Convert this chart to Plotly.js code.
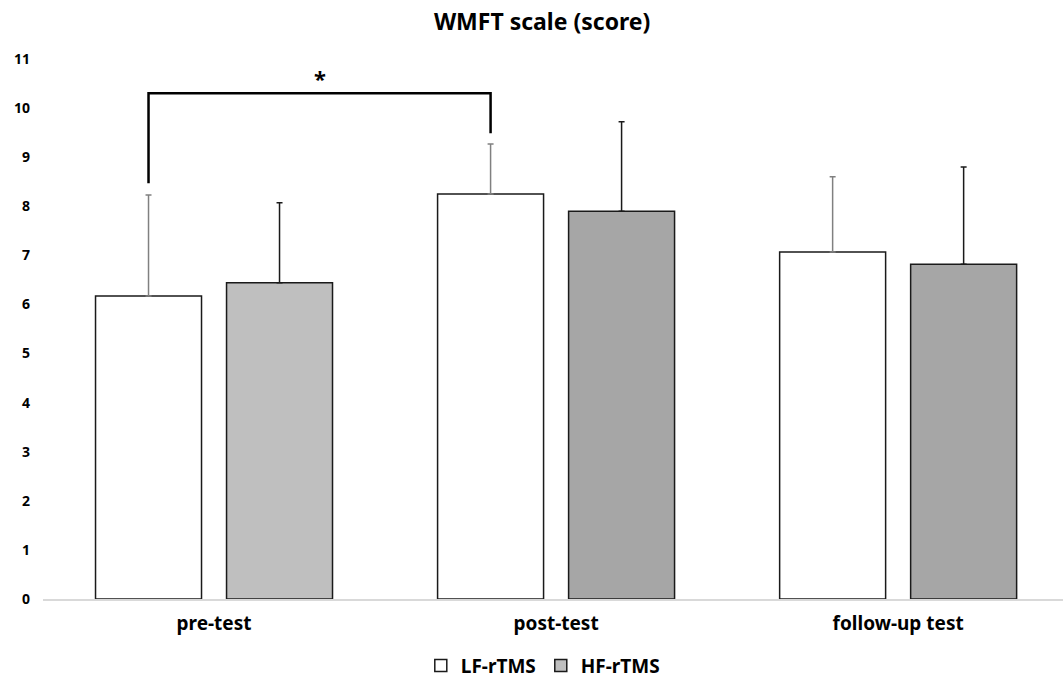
<!DOCTYPE html>
<html>
<head>
<meta charset="utf-8">
<script src="https://cdn.plot.ly/plotly-3.0.1.min.js"></script>
<style>html,body{margin:0;padding:0;background:#fff;}#chart{width:1063px;height:682px;}</style>
</head>
<body>
<div id="chart"></div>
<script>
const categories = ["pre-test", "post-test", "follow-up test"];
const lfMeans = [6.17, 8.25, 7.07];
const lfSD = [2.06, 1.02, 1.53];
const hfMeans = [6.44, 7.90, 6.82];
const hfSD = [1.63, 1.82, 1.98];
const seriesNames = ["LF-rTMS", "HF-rTMS"];
const yTicks = [0,1,2,3,4,5,6,7,8,9,10,11];
// significance bracket: between LF pre-test and LF post-test
const sigFrom = 0, sigTo = 1;
const sigTop = 10.3;
const sigLegEnds = [8.47, 9.49];
const sigLabel = "*";

const FONT = '"Noto Sans", "Noto Sans CJK KR", sans-serif';
const bargap = 0.234, bargroupgap = 0.191;
const slot = (1 - bargap) / 2;
const lfOffset = -slot / 2;

const traces = [
  {
    type: 'bar', name: '<b>' + seriesNames[0] + '</b>', x: categories, y: lfMeans,
    marker: {color: '#ffffff', line: {color: '#1a1a1a', width: 1.5}},
    error_y: {type: 'data', symmetric: false, array: lfSD, arrayminus: lfSD.map(() => 0),
              color: '#808080', thickness: 1.5, width: 3}
  },
  {
    type: 'bar', name: '<b>' + seriesNames[1] + '</b>', x: categories, y: hfMeans,
    marker: {color: ['#a6a6a6', '#a6a6a6', '#a6a6a6'], line: {color: '#1a1a1a', width: 1.5}},
    error_y: {type: 'data', symmetric: false, array: hfSD, arrayminus: hfSD.map(() => 0),
              color: '#1a1a1a', thickness: 1.5, width: 3}
  }
];

const xa = sigFrom + lfOffset, xb = sigTo + lfOffset;
const layout = {
  width: 1063, height: 682,
  margin: {l: 43, r: 0, t: 59, b: 83, autoexpand: false},
  paper_bgcolor: '#ffffff', plot_bgcolor: '#ffffff',
  font: {family: FONT, color: '#000000'},
  title: {text: '<b>WMFT scale (score)</b>', font: {family: FONT, size: 23, color: '#000'},
          x: 0.51, xanchor: 'center', y: 0.968, yanchor: 'middle', xref: 'container'},
  barmode: 'group', bargap: bargap, bargroupgap: bargroupgap,
  showlegend: true,
  legend: {orientation: 'h', x: 0.49, xanchor: 'center', y: 0.024, yanchor: 'middle', yref: 'container',
           font: {family: FONT, size: 19, color: '#000'}, itemwidth: 30,
           traceorder: 'normal'},
  xaxis: {
    type: 'category', range: [-0.5, 2.482], automargin: false,
    showgrid: false, zeroline: false, showline: true, linecolor: '#d9d9d9', linewidth: 1.5,
    ticks: '', tickfont: {family: FONT, size: 19, color: '#000', weight: 'bold'},
    ticklabelstandoff: 7
  },
  yaxis: {
    range: [0, 11], tickvals: yTicks, ticktext: yTicks.map(String), automargin: false,
    showgrid: false, zeroline: false, showline: false, ticks: '',
    tickfont: {family: FONT, size: 14, color: '#000', weight: 'bold'},
    ticklabelstandoff: 12
  },
  shapes: [{
    type: 'path', xref: 'x', yref: 'y',
    path: `M ${xa} ${sigLegEnds[0]} L ${xa} ${sigTop} L ${xb} ${sigTop} L ${xb} ${sigLegEnds[1]}`,
    line: {color: '#000', width: 2.5}
  }],
  annotations: [{
    xref: 'x', yref: 'y', x: (xa + xb) / 2, y: sigTop, yanchor: 'bottom', yshift: -2,
    text: '<b>' + sigLabel + '</b>', showarrow: false, font: {family: FONT, size: 22, color: '#000'}
  }]
};

Plotly.newPlot('chart', traces, layout, {displayModeBar: false, staticPlot: true}).then(() => {
  // pre-test HF bar is lighter grey in the reference
  Plotly.restyle('chart', {'marker.color': [['#bfbfbf', '#a6a6a6', '#a6a6a6']]}, [1]);
});
</script>
</body>
</html>
